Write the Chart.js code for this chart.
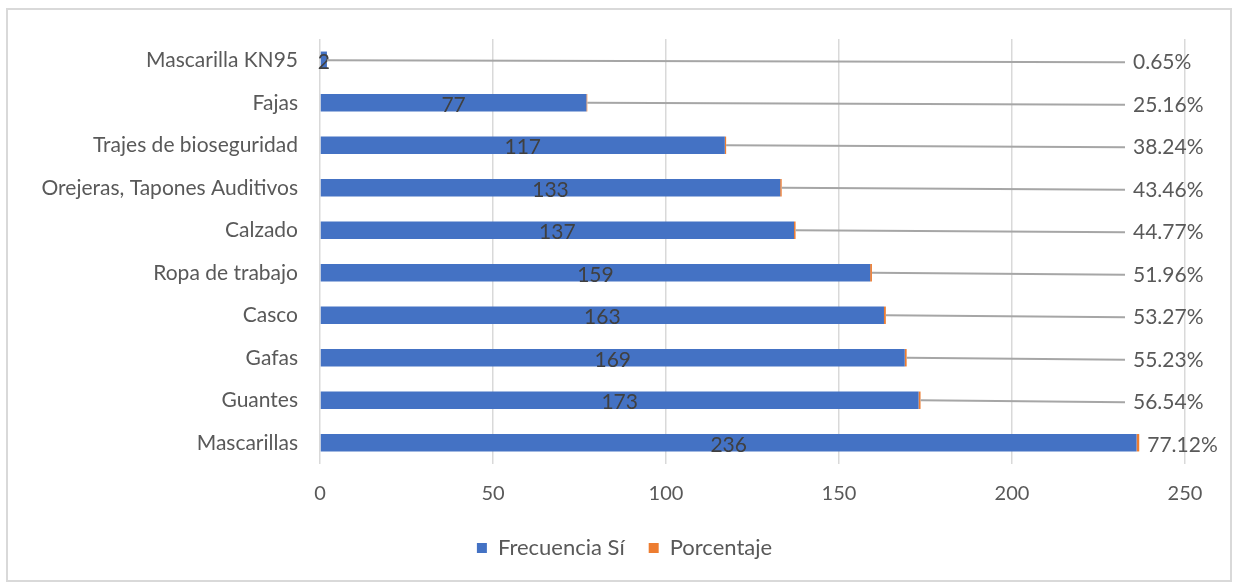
<!DOCTYPE html>
<html>
<head>
<meta charset="utf-8">
<script src="https://cdn.jsdelivr.net/npm/chart.js@4.4.1/dist/chart.umd.min.js"></script>
<style>
  body { margin: 0; background: #fff; }
  #wrap { position: relative; width: 1235px; height: 583px; }
  #marco { position: absolute; left: 6px; top: 8px; width: 1222px; height: 570px; border: 2px solid #d9d9d9; pointer-events: none; }
</style>
</head>
<body>
<div id="wrap">
  <canvas id="grafico" width="1235" height="583"></canvas>
  <div id="marco"></div>
</div>
<script>
// EPP usados: frecuencia "Sí" y porcentaje
const categorias = ['Mascarilla KN95', 'Fajas', 'Trajes de bioseguridad', 'Orejeras, Tapones Auditivos', 'Calzado', 'Ropa de trabajo', 'Casco', 'Gafas', 'Guantes', 'Mascarillas'];
const frecuencia = [2, 77, 117, 133, 137, 159, 163, 169, 173, 236];
const porcentaje = [0.65, 25.16, 38.24, 43.46, 44.77, 51.96, 53.27, 55.23, 56.54, 77.12];
const ticksX = [0, 50, 100, 150, 200, 250];

const fuente = 'Lato, "Open Sans", sans-serif';
const gris = '#595959';

// etiquetas de valor dentro de la barra y porcentaje a la derecha con linea guia
const etiquetas = {
  id: 'etiquetas',
  afterLayout(chart) {
    // correr la leyenda un poco a la derecha
    chart.legend.left += 12;
    chart.legend.right += 12;
  },
  afterDatasetsDraw(chart) {
    const ctx = chart.ctx;
    const xs = chart.scales.x;
    const barras = chart.getDatasetMeta(0).data;
    ctx.save();
    ctx.font = '21px ' + fuente;
    ctx.textBaseline = 'middle';

    barras.forEach((bar, i) => {
      // valor al centro de la barra azul
      ctx.fillStyle = '#404040';
      ctx.textAlign = 'center';
      ctx.fillText(frecuencia[i], (bar.base + bar.x) / 2, bar.y + 2);

      // porcentaje a la derecha
      const fin = xs.getPixelForValue(frecuencia[i] + porcentaje[i] / 100);
      const xTxt = xs.right - 52;
      const yTxt = bar.y + 2;
      if (xTxt - fin > 20) {
        ctx.strokeStyle = '#a6a6a6';
        ctx.lineWidth = 2;
        ctx.beginPath();
        ctx.moveTo(fin, bar.y);
        ctx.lineTo(xTxt - 8, yTxt);
        ctx.stroke();
      }
      ctx.fillStyle = gris;
      ctx.textAlign = 'left';
      ctx.fillText(porcentaje[i].toFixed(2) + '%', Math.max(xTxt, fin + 8), yTxt);
    });
    ctx.restore();
  }
};

new Chart(document.getElementById('grafico'), {
  type: 'bar',
  data: {
    labels: categorias,
    datasets: [{
      label: 'Frecuencia Sí',
      data: frecuencia,
      backgroundColor: '#4472c4',
      categoryPercentage: 0.41,
      barPercentage: 1
    }, {
      label: 'Porcentaje',
      data: porcentaje.map(p => p / 100),
      backgroundColor: '#ed7d31',
      categoryPercentage: 0.41,
      barPercentage: 1
    }]
  },
  options: {
    indexAxis: 'y',
    responsive: false,
    animation: false,
    layout: { padding: { left: 40, right: 50, top: 39, bottom: 14 } },
    scales: {
      x: {
        stacked: true,
        min: 0,
        max: 250,
        afterBuildTicks: s => { s.ticks = ticksX.map(v => ({ value: v })); },
        afterFit: s => { s.height = s.height - 11; },
        grid: { color: '#d9d9d9', lineWidth: 1.5, drawTicks: false },
        border: { display: false },
        ticks: { color: gris, font: { family: fuente, size: 20 }, padding: 18 }
      },
      y: {
        stacked: true,
        afterFit: s => { s.width = 280; },
        grid: { display: false, drawTicks: false },
        border: { display: false },
        ticks: { color: gris, font: { family: fuente, size: 21 }, padding: 22 }
      }
    },
    plugins: {
      legend: {
        position: 'bottom',
        labels: { color: gris, font: { family: fuente, size: 22 }, boxWidth: 10, boxHeight: 10, padding: 24 }
      },
      tooltip: { enabled: false }
    }
  },
  plugins: [etiquetas]
});
</script>
</body>
</html>
